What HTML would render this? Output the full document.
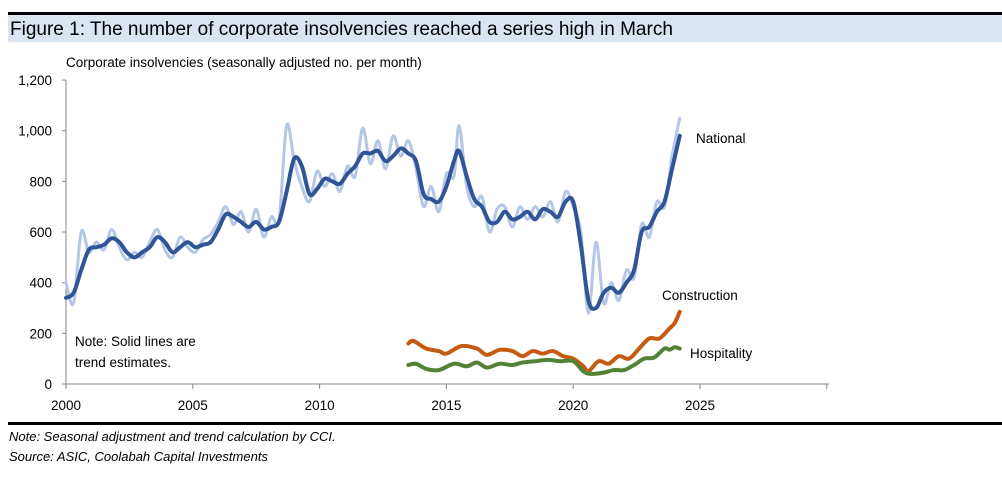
<!DOCTYPE html>
<html><head><meta charset="utf-8"><style>
body{margin:0;width:1002px;height:472px;background:#fff;overflow:hidden;font-family:"Liberation Sans",sans-serif;}
svg text{font-family:"Liberation Sans",sans-serif;}
</style></head><body>
<svg width="1002" height="472">
<rect x="8" y="12" width="994" height="3" fill="#000"/>
<rect x="8" y="15" width="994" height="27" fill="#dbe5f1"/>
<text x="10" y="35" font-size="19" fill="#000">Figure 1: The number of corporate insolvencies reached a series high in March</text>
<text x="66" y="67" font-size="13.5">Corporate insolvencies (seasonally adjusted no. per month)</text>
<g id="axes"></g>
<g id="series"></g>
<text x="696" y="143" font-size="13.5">National</text>
<text x="662" y="300" font-size="13.5">Construction</text>
<text x="690" y="358" font-size="13.5">Hospitality</text>
<text x="75" y="346" font-size="13.5">Note: Solid lines are</text>
<text x="75" y="367" font-size="13.5">trend estimates.</text>
<rect x="8" y="422" width="994" height="3" fill="#000"/>
<text x="9" y="441" font-size="13" font-style="italic">Note: Seasonal adjustment and trend calculation by CCI.</text>
<text x="9" y="461" font-size="13" font-style="italic">Source: ASIC, Coolabah Capital Investments</text>
</svg>
<script>
const yTicks=[0,200,400,600,800,1000,1200];
const yTickLabels=["0","200","400","600","800","1,000","1,200"];
const xTicks=[2000,2005,2010,2015,2020,2025];
const natYears=[2000.0,2000.3,2000.6,2000.9,2001.2,2001.5,2001.8,2002.1,2002.4,2002.7,2003.0,2003.3,2003.6,2003.9,2004.2,2004.5,2004.8,2005.1,2005.4,2005.7,2006.0,2006.3,2006.6,2006.9,2007.2,2007.5,2007.8,2008.1,2008.4,2008.7,2009.0,2009.3,2009.6,2009.9,2010.2,2010.5,2010.8,2011.1,2011.4,2011.7,2012.0,2012.3,2012.6,2012.9,2013.2,2013.5,2013.8,2014.1,2014.4,2014.7,2015.0,2015.3,2015.5,2015.8,2016.1,2016.4,2016.7,2017.0,2017.3,2017.6,2017.9,2018.2,2018.5,2018.8,2019.1,2019.4,2019.7,2020.0,2020.3,2020.6,2020.9,2021.2,2021.5,2021.8,2022.1,2022.4,2022.7,2023.0,2023.3,2023.6,2023.9,2024.2];
const natTrend=[340,360,450,530,540,550,575,560,520,500,520,540,580,560,520,540,560,540,550,560,610,670,660,640,620,640,610,620,640,760,890,860,750,770,810,800,790,830,860,910,910,920,880,900,930,910,880,750,730,720,780,880,920,820,730,700,640,640,680,650,660,680,650,690,680,660,720,720,550,330,300,360,380,360,400,450,600,620,680,720,850,980];
const natRaw=[400,320,600,520,560,530,610,540,490,520,500,560,610,530,500,580,540,520,570,590,640,700,630,680,600,690,580,660,650,1020,880,780,720,840,780,830,760,860,820,1010,870,960,850,980,900,960,850,700,780,680,830,820,1020,780,700,740,600,690,700,620,700,650,700,660,720,640,760,700,600,280,560,320,400,330,450,420,630,580,720,700,900,1050];
const conYears=[2013.5,2013.7,2014.2,2014.7,2015.0,2015.6,2016.2,2016.6,2017.1,2017.6,2018.0,2018.4,2018.8,2019.2,2019.6,2020.0,2020.4,2020.6,2021.0,2021.4,2021.8,2022.2,2022.6,2023.0,2023.4,2023.8,2024.0,2024.2];
const conTrend=[160,170,140,130,120,150,140,115,135,130,110,130,120,130,110,100,70,50,90,80,110,100,140,180,180,220,240,285];
const hosYears=[2013.5,2013.8,2014.2,2014.7,2015.3,2015.8,2016.2,2016.6,2017.1,2017.6,2018.0,2018.5,2019.0,2019.5,2020.0,2020.4,2020.7,2021.2,2021.6,2022.0,2022.4,2022.8,2023.2,2023.6,2023.8,2024.0,2024.2];
const hosTrend=[75,80,60,55,80,70,85,65,80,75,85,90,95,90,90,50,40,45,55,55,75,100,105,140,135,145,140];

const X=v=>66+(v-2000)*25.36;
const Y=v=>384-v*0.2533;
const NS="http://www.w3.org/2000/svg";
const axes=document.getElementById('axes');
const ser=document.getElementById('series');
function mk(tag,attrs,parent){const e=document.createElementNS(NS,tag);for(const k in attrs)e.setAttribute(k,attrs[k]);parent.appendChild(e);return e;}
let a=mk('line',{x1:66,y1:Y(1200),x2:66,y2:384,stroke:'#868686','stroke-width':1},axes);


a=mk('line',{x1:66,y1:384,x2:829,y2:384,stroke:'#868686','stroke-width':1},axes);


yTicks.forEach((t,i)=>{
 const l=mk('line',{x1:62,y1:Y(t),x2:66,y2:Y(t),stroke:'#868686'},axes);
 
 
 const tx=mk('text',{x:52,y:Y(t)+5,'font-size':13.5,'text-anchor':'end'},axes);
 tx.textContent=yTickLabels[i];
 
 
});
for(let yr=2000;yr<=2030;yr+=5){
 const l=mk('line',{x1:X(yr),y1:384,x2:X(yr),y2:389,stroke:'#868686'},axes);
 
 
}
xTicks.forEach(t=>{
 const tx=mk('text',{x:X(t),y:410,'font-size':13.5,'text-anchor':'middle'},axes);
 tx.textContent=String(t);
 
 
});
function path(xs,ys){
 const p=xs.map((x,i)=>[X(x),Y(ys[i])]);
 let d='M'+p[0][0]+','+p[0][1];
 for(let i=0;i<p.length-1;i++){
  const p0=p[i-1]||p[i],p1=p[i],p2=p[i+1],p3=p[i+2]||p2;
  const c1=[p1[0]+(p2[0]-p0[0])/6,p1[1]+(p2[1]-p0[1])/6];
  const c2=[p2[0]-(p3[0]-p1[0])/6,p2[1]-(p3[1]-p1[1])/6];
  d+=' C'+c1+' '+c2+' '+p2;
 }
 return d;
}
function line(xs,ys,color,w,name){
 const e=mk('path',{d:path(xs,ys),fill:'none',stroke:color,'stroke-width':w,'stroke-linejoin':'round','stroke-linecap':'round'},ser);
 
 
}
line(natYears,natRaw,'#b4c7e7',3,'national-raw-line');
line(natYears,natTrend,'#2f5597',4,'national-trend-line');
line(conYears,conTrend,'#c55a11',4,'construction-trend-line');
line(hosYears,hosTrend,'#548235',4,'hospitality-trend-line');
</script>
</body></html>
